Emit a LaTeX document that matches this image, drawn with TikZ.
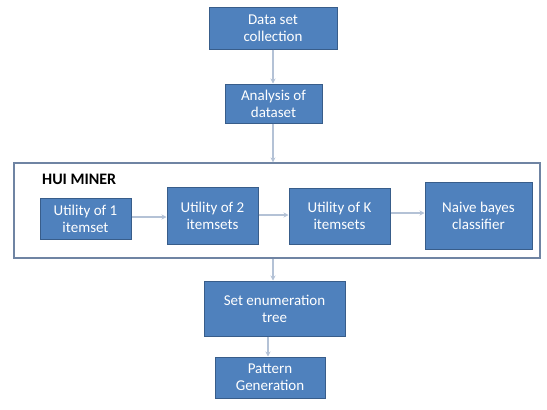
\documentclass[tikz,border=0pt]{standalone}
\usepackage{fontspec}
\setmainfont{Carlito}
\usetikzlibrary{arrows.meta}
\definecolor{boxfill}{HTML}{4F81BD}
\definecolor{boxline}{HTML}{385D8A}
\definecolor{arrowc}{HTML}{B4C2D6}
\definecolor{framec}{HTML}{6F84A3}
\begin{document}
\begin{tikzpicture}[x=1pt,y=-1pt,
  blk/.style={draw=boxline, line width=1pt, fill=boxfill, text=white, align=center,
    font=\fontsize{15}{17}\selectfont, inner sep=0pt, anchor=center},
  conn/.style={draw=arrowc, line width=1.3pt, -{Stealth[length=5pt,width=5pt]}}]
\useasboundingbox (0,0) rectangle (547,410);
\node[blk, minimum width=128pt, minimum height=42pt] (b1) at (273,28) {Data set\\collection};
\node[blk, minimum width=97pt, minimum height=39pt] (b2) at (273.5,103.5) {Analysis of\\dataset};
\node[draw=framec, line width=1.2pt, minimum width=526pt, minimum height=95pt, inner sep=0pt] (frame) at (277,210.5) {};
\node[font=\fontsize{16}{18}\selectfont\bfseries, anchor=west, inner sep=0pt] (hui) at (42,179) {HUI MINER};
\node[blk, minimum width=91pt, minimum height=41pt] (u1) at (85.5,218.5) {Utility of 1\\itemset};
\node[blk, minimum width=91pt, minimum height=57pt] (u2) at (212.5,215.5) {Utility of 2\\itemsets};
\node[blk, minimum width=101pt, minimum height=56pt] (uk) at (339.5,216) {Utility of K\\itemsets};
\node[blk, minimum width=107pt, minimum height=67pt] (nb) at (478.5,215.5) {Naive bayes\\classifier};
\node[blk, minimum width=141pt, minimum height=55pt] (set) at (274.5,308.5) {Set enumeration\\tree};
\node[blk, minimum width=110pt, minimum height=41pt] (pg) at (270,377.5) {Pattern\\Generation};
\coordinate (ax) at (273,0);
\coordinate (ax2) at (268,0);
\draw[conn] (b1.south -| ax) -- (b2.north -| ax);
\draw[conn] (b2.south -| ax) -- (frame.north -| ax);
\draw[conn] (frame.south -| ax) -- (set.north -| ax);
\draw[conn] (set.south -| ax2) -- (pg.north -| ax2);
\draw[conn] (u1.east |- 0,217) -- (u2.west |- 0,217);
\draw[conn] (u2.east |- 0,215) -- (uk.west |- 0,215);
\draw[conn] (uk.east |- 0,213) -- (nb.west |- 0,213);
\end{tikzpicture}
\end{document}
